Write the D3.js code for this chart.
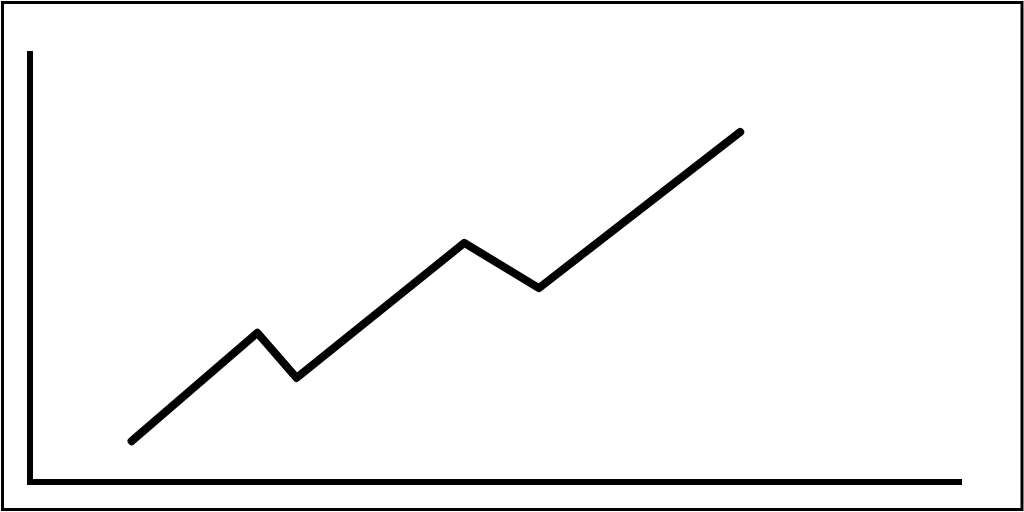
<!DOCTYPE html>
<html>
<head>
<meta charset="utf-8">
<script src="https://cdn.jsdelivr.net/npm/d3@7"></script>
<style>
  html, body { margin: 0; padding: 0; background: #fff; }
  svg { display: block; }
</style>
</head>
<body>
<svg width="1024" height="512"></svg>
<script>
// values, both axes on a 0-100 scale
const xValues = [10.9, 24.4, 28.6, 46.6, 54.6, 76.2]
const yValues = [9.5, 34.7, 24.2, 55.6, 45.1, 81.4]

const width = 1024
const height = 512
const margin = { top: 52, right: 62, bottom: 30, left: 30 }

const svg = d3.select('svg')

const x = d3.scaleLinear()
  .domain([0, 100])
  .range([margin.left, width - margin.right])

const y = d3.scaleLinear()
  .domain([0, 100])
  .range([height - margin.bottom, margin.top])

// outer frame
svg.append('rect')
  .attr('x', 2.5)
  .attr('y', 2.5)
  .attr('width', width - 4.5)
  .attr('height', height - 5)
  .attr('fill', 'none')
  .attr('stroke', '#000')
  .attr('stroke-width', 3)

// axes, no ticks
svg.append('g')
  .attr('transform', 'translate(0,' + y(0) + ')')
  .call(d3.axisBottom(x).ticks(0).tickSizeOuter(0))
  .call(g => g.select('.domain')
    .attr('d', 'M' + (x(0) - 3) + ',0H' + x(100))
    .attr('stroke-width', 6))

svg.append('g')
  .attr('transform', 'translate(' + x(0) + ',0)')
  .call(d3.axisLeft(y).ticks(0).tickSizeOuter(0))
  .call(g => g.select('.domain')
    .attr('d', 'M0,' + (y(0) + 3) + 'V' + (y(100) - 1))
    .attr('stroke-width', 6))

const line = d3.line()
  .x(d => x(d[0]))
  .y(d => y(d[1]))

svg.append('path')
  .datum(d3.zip(xValues, yValues))
  .attr('d', line)
  .attr('fill', 'none')
  .attr('stroke', '#000')
  .attr('stroke-width', 8)
  .attr('stroke-linecap', 'round')
  .attr('stroke-linejoin', 'round')
</script>
</body>
</html>
